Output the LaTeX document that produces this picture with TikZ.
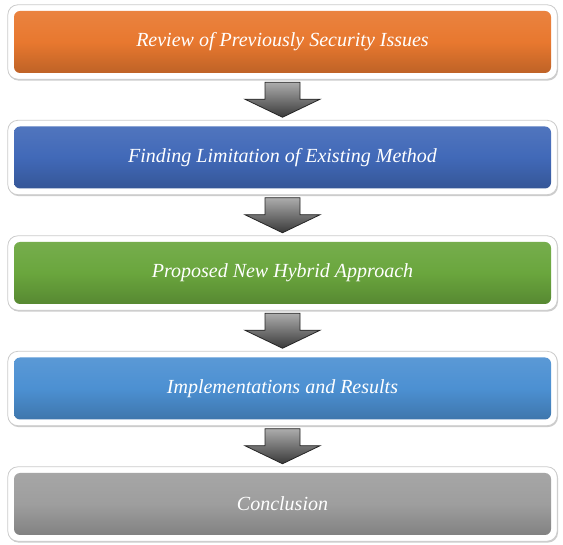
\documentclass[tikz,border=0pt]{standalone}
\usepackage{fontspec}
\setmainfont{Liberation Serif}
\usetikzlibrary{calc,backgrounds,shadows}
\definecolor{corange}{HTML}{E8782F}
\definecolor{cblue}{HTML}{4169B8}
\definecolor{cgreen}{HTML}{6AA63D}
\definecolor{clblue}{HTML}{4C90D2}
\definecolor{cgray}{HTML}{9E9E9E}
\tikzset{
  stage/.style={minimum width=537pt, minimum height=62pt, rounded corners=6pt,
    text=white, font=\itshape\fontsize{20}{24}\selectfont, inner sep=0pt,
    top color=#1!92!white, bottom color=#1!82!black, middle color=#1},
  frame/.style={fill=white, draw=gray!40, line width=0.8pt, rounded corners=10pt,
    drop shadow={shadow xshift=0.8pt, shadow yshift=-1.4pt, opacity=0.4, fill=gray}},
  blockarrow/.style={top color=gray!65, bottom color=gray!45!black, draw=black!85,
    line width=0.8pt, line join=miter}
}
\newcommand\blockarr[2]{%
  \draw[blockarrow] ($(#1.south)!0.5!(#2.north)+(-17.5pt,17.5pt)$)
    -- ++(35pt,0pt) -- ++(0pt,-17pt) -- ++(20pt,0pt) -- ++(-37.5pt,-18pt)
    -- ++(-37.5pt,18pt) -- ++(20pt,0pt) -- cycle;}
\begin{document}
\begin{tikzpicture}
\useasboundingbox (0pt,0pt) rectangle (563pt,-545pt);
\node[stage=corange] (b1) at (282.5pt,-42pt) {Review of Previously Security Issues};
\node[stage=cblue]   (b2) at (282.5pt,-157.5pt) {Finding Limitation of Existing Method};
\node[stage=cgreen]  (b3) at (282.5pt,-273pt) {Proposed New Hybrid Approach};
\node[stage=clblue]  (b4) at (282.5pt,-388.5pt) {Implementations and Results};
\node[stage=cgray]   (b5) at (282.5pt,-504pt) {Conclusion};
\begin{pgfonlayer}{background}
\fill[white] (0pt,0pt) rectangle (563pt,-545pt);
\foreach \n in {b1,b2,b3,b4,b5}
  \draw[frame] ($(\n.north west)+(-6pt,6pt)$) rectangle ($(\n.south east)+(6pt,-6pt)$);
\end{pgfonlayer}
\blockarr{b1}{b2}
\blockarr{b2}{b3}
\blockarr{b3}{b4}
\blockarr{b4}{b5}
\end{tikzpicture}
\end{document}
